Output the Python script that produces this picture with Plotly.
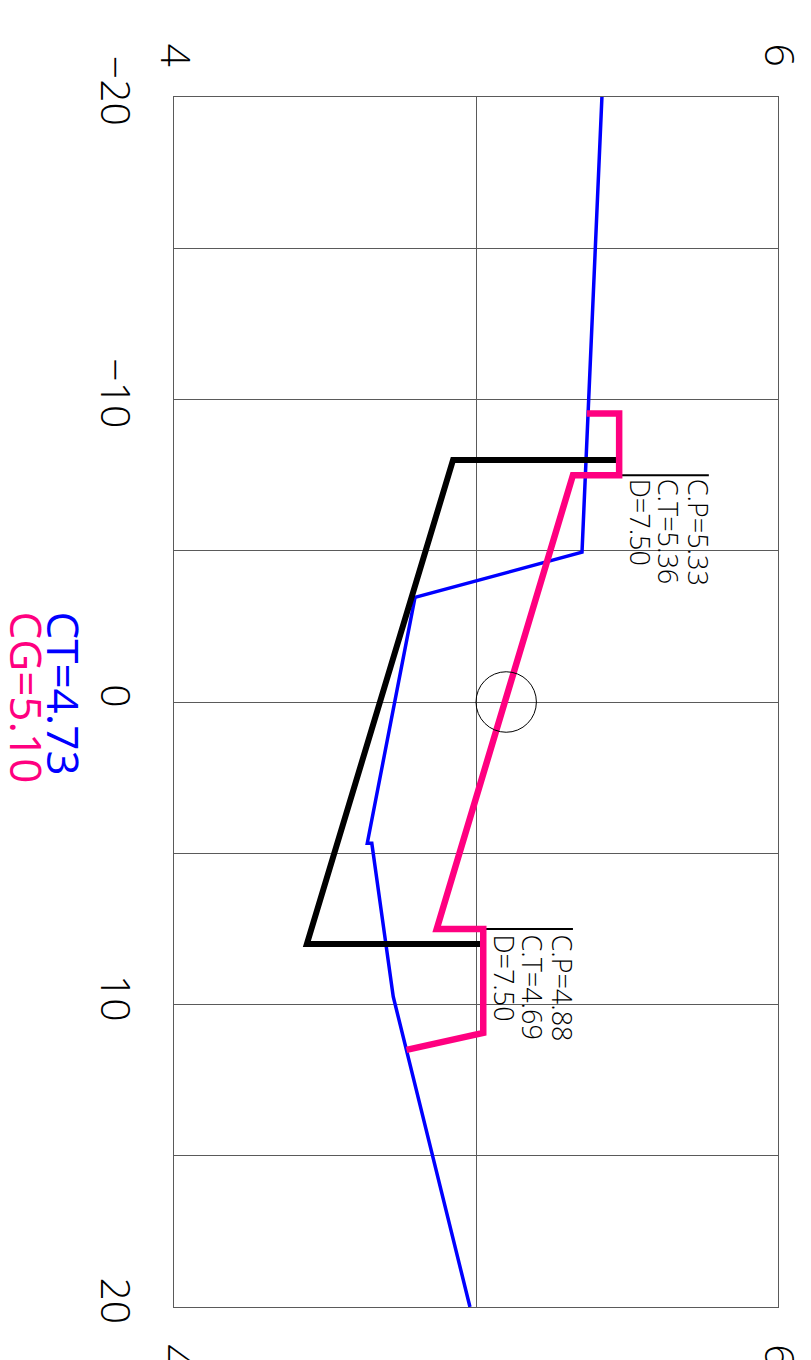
import plotly.graph_objects as go

# Data (original chart: horizontal position u from -20 to 20, value v from 4 to 6)
blue_u = [-20, -4.95, -3.46, 4.67, 4.67, 9.74, 20]
blue_v = [5.417, 5.351, 4.798, 4.640, 4.655, 4.726, 4.980]

pink_u = [-9.54, -9.54, -7.5, -7.5, 7.5, 7.5, 10.94, 11.5]
pink_v = [5.367, 5.474, 5.474, 5.321, 4.870, 5.024, 5.024, 4.770]

black_u = [-8, -8, 8, 8]
black_v = [5.477, 4.924, 4.440, 5.023]

marker1_u = [-7.5, -7.5]
marker1_v = [5.321, 5.771]
marker1_text = ["C.P=5.33", "C.T=5.36", "D=7.50"]

marker2_u = [7.5, 7.5]
marker2_v = [4.870, 5.321]
marker2_text = ["C.P=4.88", "C.T=4.69", "D=7.50"]

center_u = 0
center_v = 5.10

u_ticks = [-20, -15, -10, -5, 0, 5, 10, 15, 20]
u_ticktext = ["\u221220", "", "\u221210", "", "0", "", "10", "", "20"]
v_ticks = [4, 5, 6]
v_ticktext = ["4", "", "6"]

ct_label = "CT=4.73"
cg_label = "CG=5.10"

BLUE = "#0000FF"
PINK = "#FF0080"
GRID = "rgb(90,90,90)"
THIN = dict(family="Open Sans", weight=300, color="black")

fig = go.Figure()
fig.add_trace(go.Scatter(x=blue_v, y=blue_u, mode="lines",
                         line=dict(color=BLUE, width=3.5)))
fig.add_trace(go.Scatter(x=marker1_v, y=marker1_u, mode="lines",
                         line=dict(color="black", width=2)))
fig.add_trace(go.Scatter(x=marker2_v, y=marker2_u, mode="lines",
                         line=dict(color="black", width=2)))
fig.add_trace(go.Scatter(x=black_v, y=black_u, mode="lines",
                         line=dict(color="black", width=6)))
fig.add_trace(go.Scatter(x=pink_v, y=pink_u, mode="lines",
                         line=dict(color=PINK, width=6.5)))
# invisible trace to carry the top axis
fig.add_trace(go.Scatter(x=[4, 6], y=[0, 0], xaxis="x2", mode="markers",
                         marker=dict(opacity=0), hoverinfo="skip"))

fig.add_shape(type="circle", xref="x", yref="y",
              x0=center_v - 0.1, x1=center_v + 0.1,
              y0=center_u - 1, y1=center_u + 1,
              line=dict(color="black", width=1))

# marker annotations (rotated 90 deg clockwise)
def add_block(texts, v_end, u, top_shift):
    offsets = [-10, -40, -68]
    for t, off in zip(texts, offsets):
        fig.add_annotation(x=v_end, y=u, xref="x", yref="y", text=t,
                           showarrow=False, textangle=90,
                           xanchor="center", yanchor="top",
                           xshift=off, yshift=top_shift,
                           font=dict(size=27, **THIN))

add_block(marker1_text, marker1_v[1], marker1_u[0], -2)
add_block(marker2_text, marker2_v[1], marker2_u[0], -4)

fig.add_annotation(x=-0.1822, y=0.5765, xref="paper", yref="paper", text=ct_label,
                   showarrow=False, textangle=90, xanchor="center", yanchor="top",
                   font=dict(family="Open Sans", size=44, color=BLUE))
fig.add_annotation(x=-0.2434, y=0.5765, xref="paper", yref="paper", text=cg_label,
                   showarrow=False, textangle=90, xanchor="center", yanchor="top",
                   font=dict(family="Open Sans", size=44, color=PINK))

axis_common = dict(showgrid=True, gridcolor=GRID, gridwidth=1, zeroline=False,
                   showline=True, linecolor=GRID, linewidth=1, ticks="",
                   automargin=False)

fig.update_layout(
    width=803, height=1352,
    margin=dict(l=166, r=33, t=89, b=53),
    paper_bgcolor="white", plot_bgcolor="white",
    showlegend=False,
    xaxis=dict(range=[4, 6], tickvals=v_ticks, ticktext=v_ticktext,
               tickangle=90, side="bottom", mirror=True,
               ticklabelstandoff=28,
               tickfont=dict(size=41, **THIN), **axis_common),
    xaxis2=dict(range=[4, 6], tickvals=v_ticks, ticktext=v_ticktext,
                tickangle=90, side="top", overlaying="x", matches="x",
                showgrid=False, zeroline=False, ticks="", automargin=False,
                ticklabelstandoff=23,
                tickfont=dict(size=41, **THIN)),
    yaxis=dict(range=[20, -20], tickvals=u_ticks, ticktext=u_ticktext,
               tickangle=90, mirror=True, ticklabelstandoff=23,
               tickfont=dict(size=41, **THIN), **axis_common),
)

fig.write_html("out.html")
